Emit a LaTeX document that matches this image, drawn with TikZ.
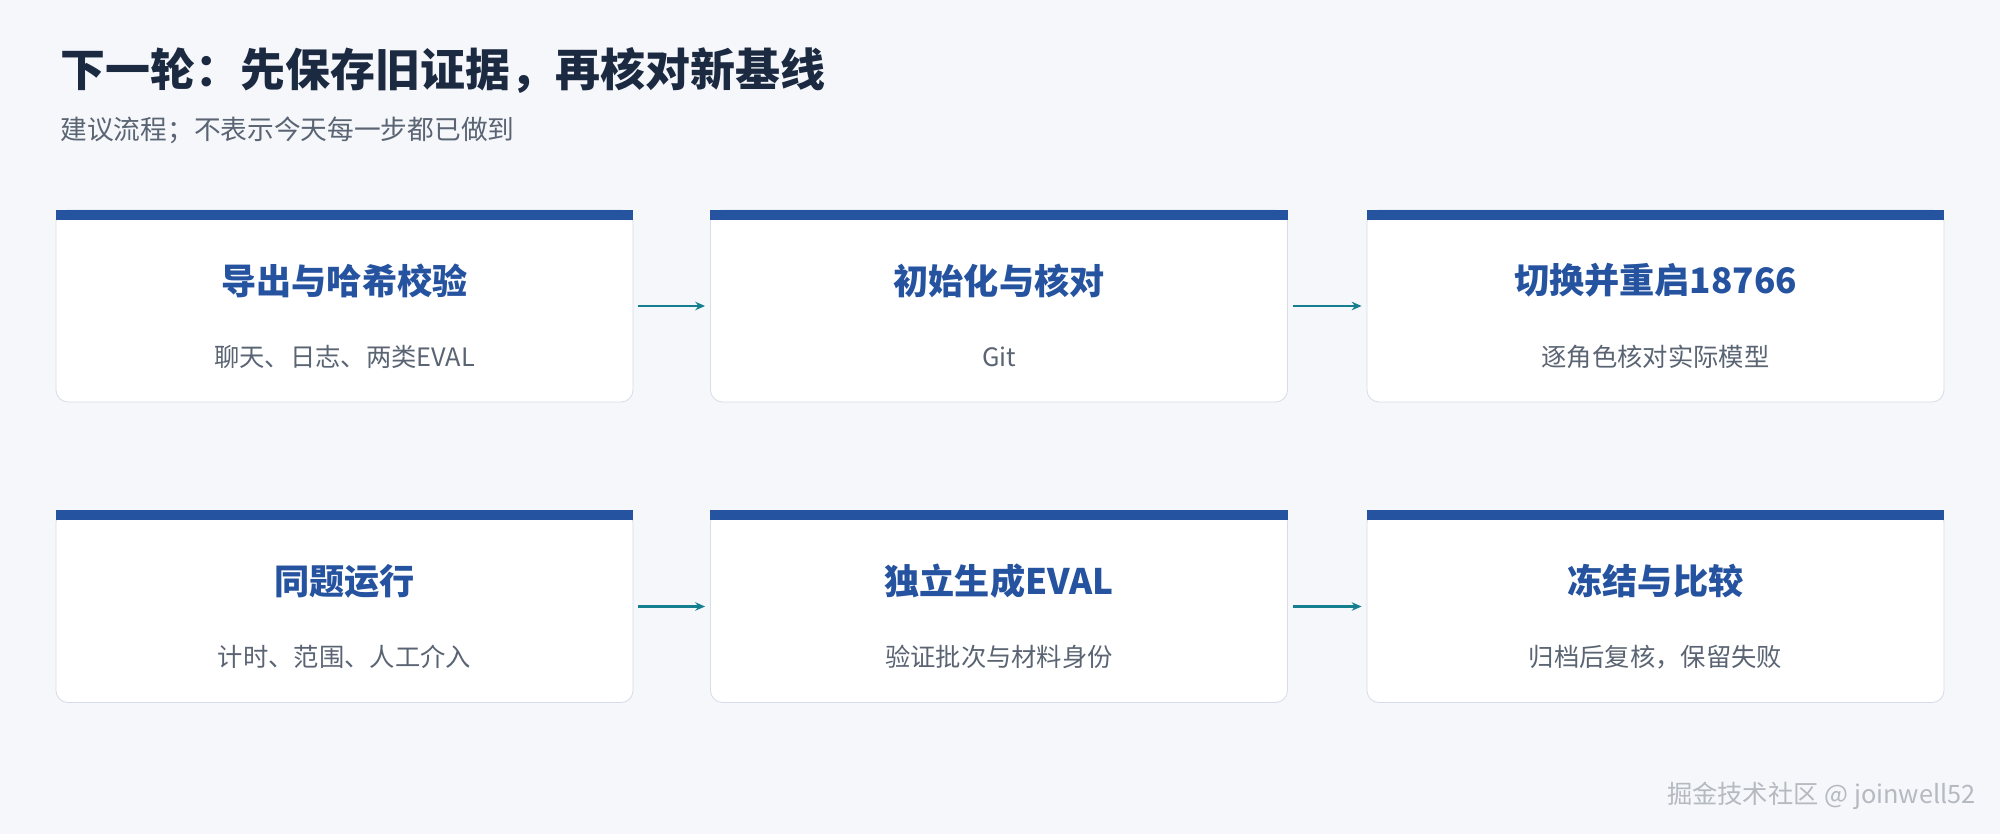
\documentclass[tikz,border=0pt]{standalone}
\usepackage{fontspec}
\setmainfont{Noto Sans CJK SC}
\usetikzlibrary{arrows.meta, positioning}
\definecolor{pagebg}{HTML}{F5F7FB}
\definecolor{titlenavy}{HTML}{1B2A41}
\definecolor{subgray}{HTML}{5A6473}
\definecolor{stepblue}{HTML}{2553A0}
\definecolor{flowteal}{HTML}{167F8F}
\definecolor{boxline}{HTML}{D5DEE8}

\begin{document}
\begin{tikzpicture}[x=0.05cm, y=-0.05cm,
    stepbox/.style={draw=boxline, line width=1.2pt, fill=white, rounded corners=12*0.05cm,
                 minimum width=577*0.05cm, minimum height=192*0.05cm, inner sep=0pt},
    steptitle/.style={font=\fontsize{50}{60}\selectfont\bfseries, text=stepblue},
    stepnote/.style={font=\fontsize{36}{44}\selectfont, text=subgray},
    flow/.style={-{Stealth[length=14pt, width=12pt]}, line width=3pt, flowteal}]
    % Page
    \fill[pagebg] (0,0) rectangle (2000,834);

    % Heading
    \node[anchor=west, text=titlenavy, font=\fontsize{64}{76}\selectfont\bfseries]
          (head) at (58,70) {下一轮：先保存旧证据，再核对新基线};
    \node[anchor=west, text=subgray, font=\fontsize{38}{46}\selectfont]
          (sub) at (58,130) {建议流程；不表示今天每一步都已做到};

    % Steps
    \foreach \name/\cx/\cy/\ttl/\note in {
        s1/344.5/306/导出与哈希校验/聊天、日志、两类EVAL,
        s2/999/306/初始化与核对/Git / 技能 / 配置 / 历史,
        s3/1655.5/306/切换并重启18766/逐角色核对实际模型,
        s4/344.5/606.5/同题运行/计时、范围、人工介入,
        s5/999/606.5/独立生成EVAL/验证批次与材料身份,
        s6/1655.5/606.5/冻结与比较/归档后复核，保留失败} {
        \node[stepbox] (\name) at (\cx,\cy) {};
        \fill[stepblue] (\name.north west) rectangle ([yshift=-10*0.05cm]\name.north east);
        \node[steptitle] (\name t) at ([yshift=-71*0.05cm]\name.north) {\ttl};
        \node[stepnote] (\name n) at ([yshift=-147*0.05cm]\name.north) {\note};
    }

    % Arrows
    \draw[flow] ([xshift=5*0.05cm]s1.east) -- ([xshift=-5*0.05cm]s2.west);
    \draw[flow] ([xshift=5*0.05cm]s2.east) -- ([xshift=-5*0.05cm]s3.west);
    \draw[flow] ([xshift=5*0.05cm]s4.east) -- ([xshift=-5*0.05cm]s5.west);
    \draw[flow] ([xshift=5*0.05cm]s5.east) -- ([xshift=-5*0.05cm]s6.west);

    % Watermark
    \node[anchor=east, text=white!55!subgray, font=\fontsize{36}{44}\selectfont]
          (mark) at (1978,796) {掘金技术社区 @ joinwell52};
\end{tikzpicture}
\end{document}
